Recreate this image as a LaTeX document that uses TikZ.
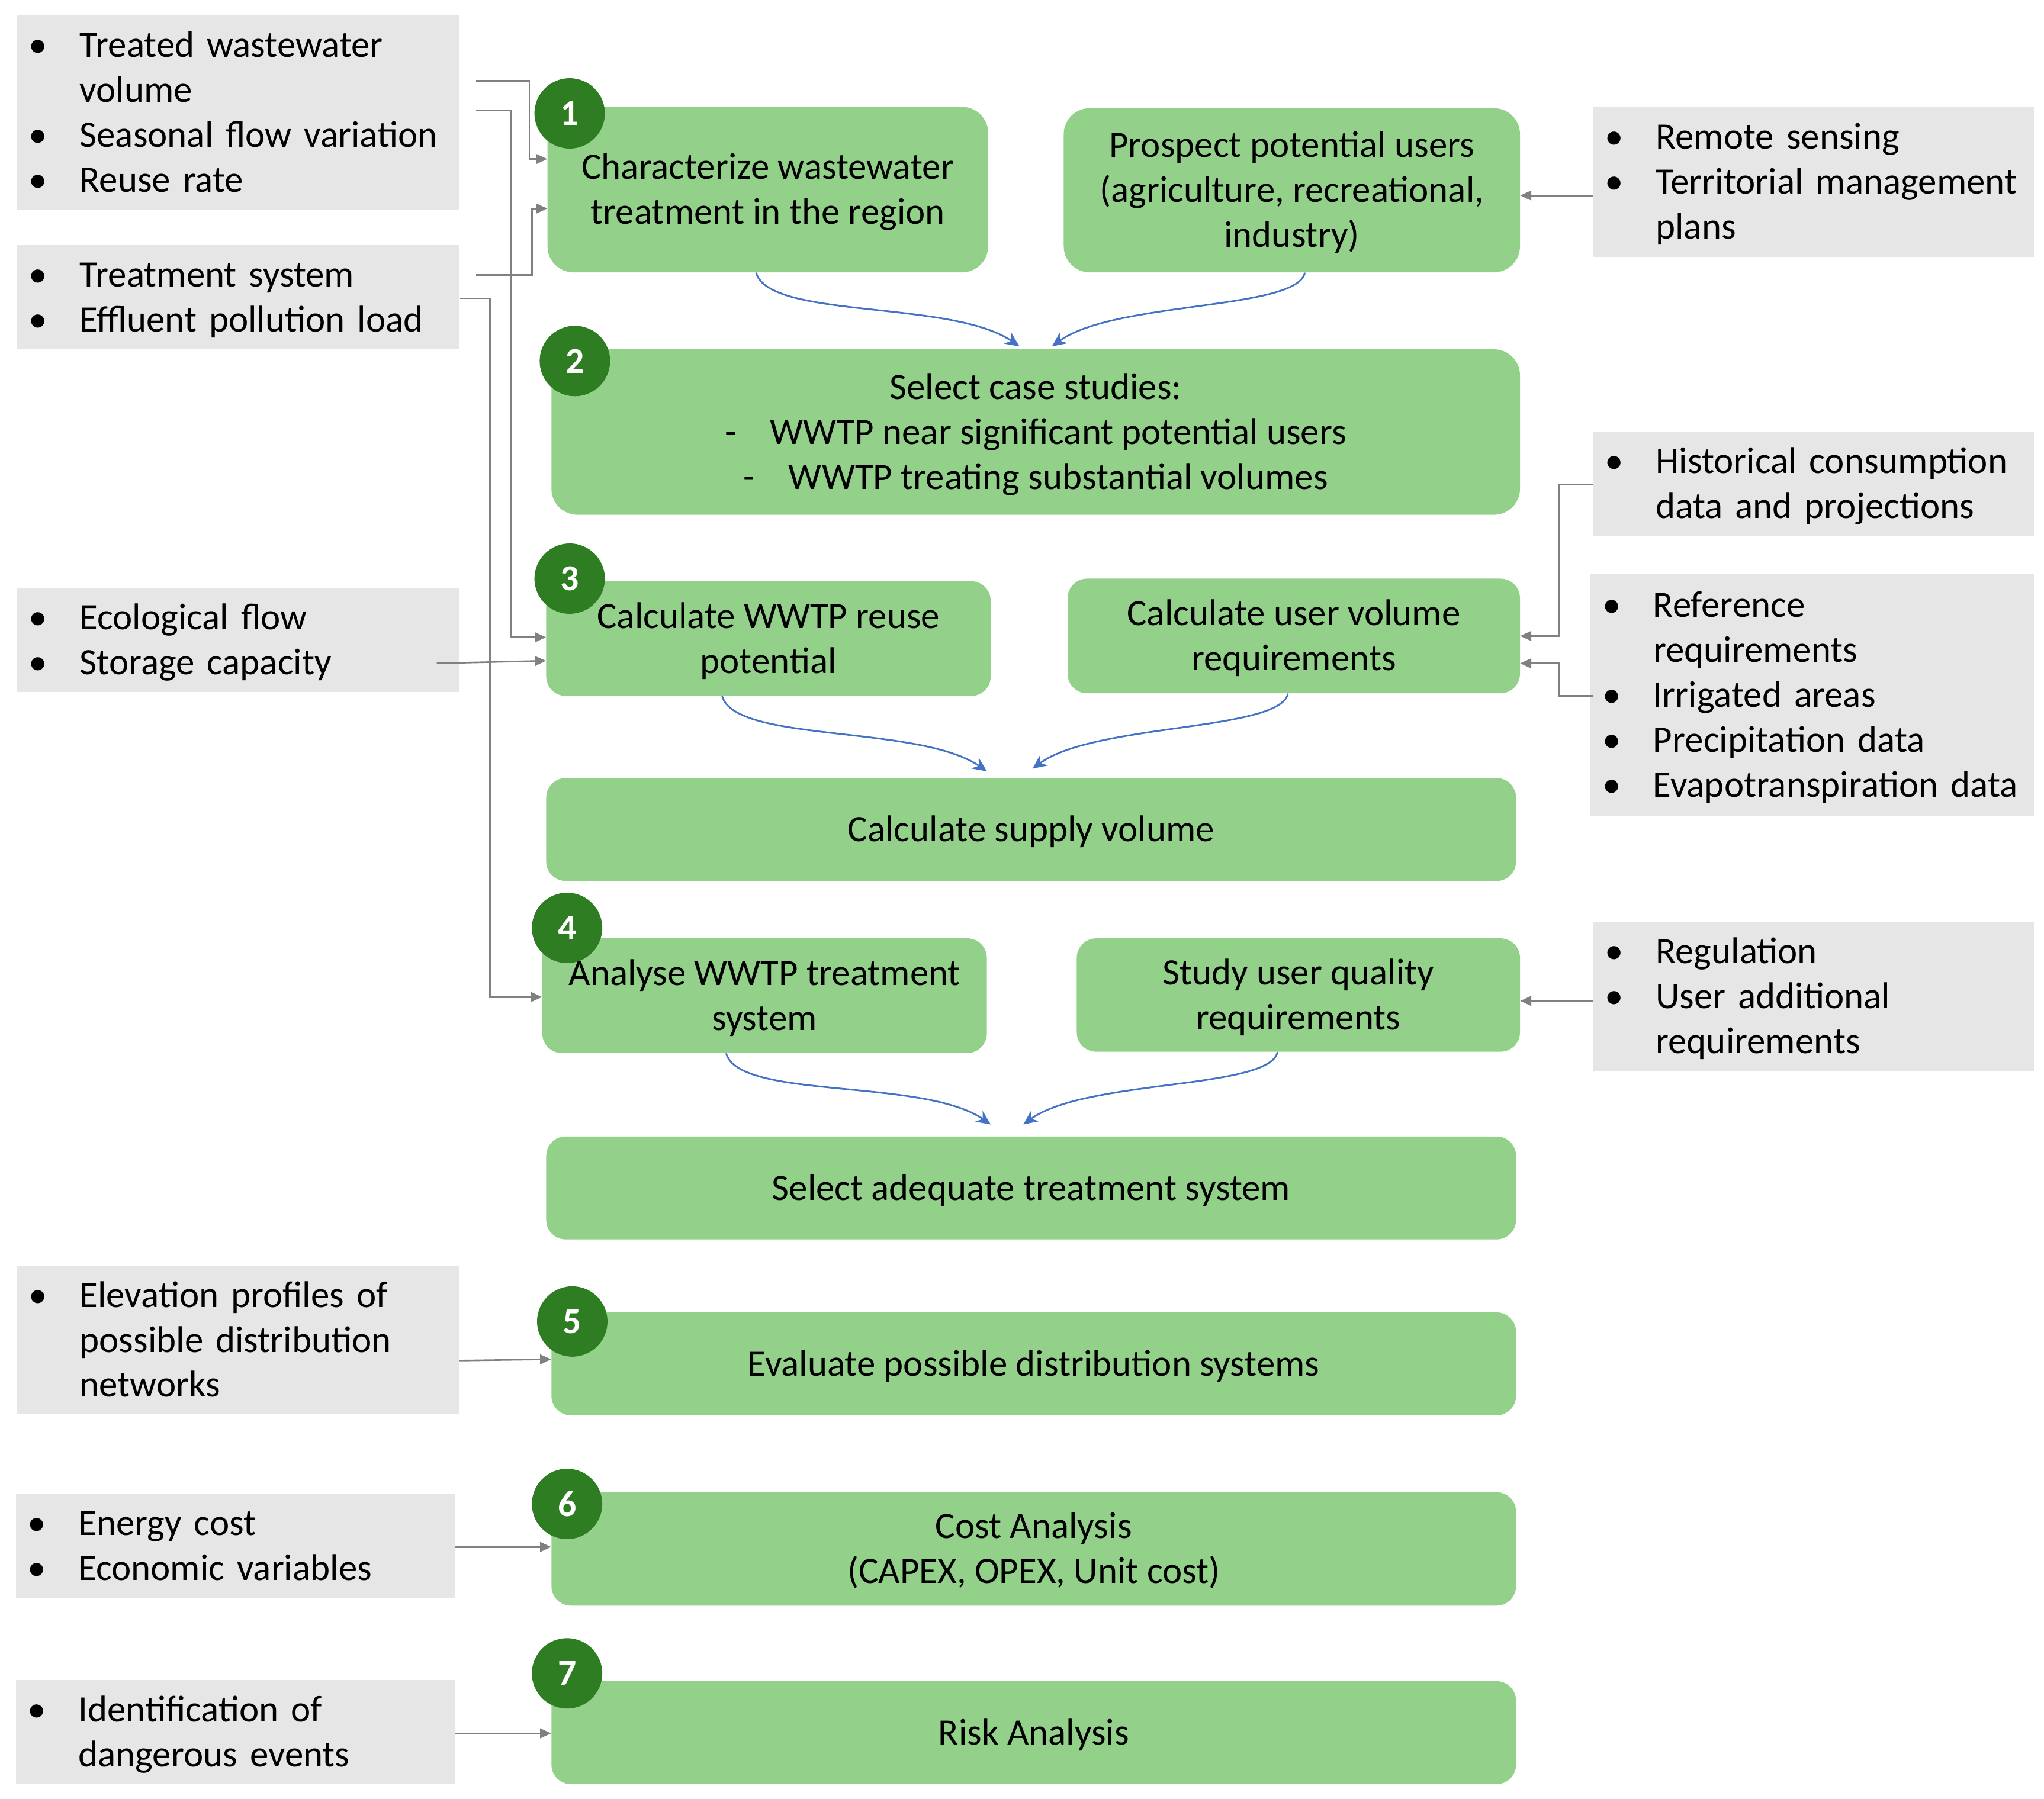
\documentclass[tikz,border=0pt]{standalone}
\usepackage{fontspec}
\setmainfont{Carlito}
\usetikzlibrary{arrows.meta,calc}
\definecolor{boxgreen}{HTML}{93D18A}
\definecolor{dkgreen}{HTML}{2E7D23}
\definecolor{boxgray}{HTML}{E7E6E6}
\definecolor{linegray}{HTML}{808080}
\definecolor{curveblue}{HTML}{4472C4}
\newcommand{\bitem}{\makebox[39pt][l]{\textbullet}}
\newcommand{\bcont}{\hspace*{39pt}}
\newcommand{\topstr}{\rule{0pt}{27pt}}
\newcommand{\botstr}{\rule[-8.5pt]{0pt}{8.5pt}}
\begin{document}
\begin{tikzpicture}[x=1pt,y=-1pt,
  every node/.style={font=\fontsize{28.6}{34.5}\selectfont},
  gbox/.style={rectangle, fill=boxgray, anchor=north west, inner xsep=9pt, inner ysep=0pt, align=left},
  stepbox/.style={rectangle, rounded corners=15pt, fill=boxgreen, align=center, inner sep=0pt},
  tallbox/.style={stepbox, rounded corners=20pt},
  num/.style={circle, fill=dkgreen, text=white, font=\fontsize{28}{30}\selectfont\bfseries, minimum size=54pt, inner sep=0pt},
  gline/.style={draw=linegray, line width=1.2pt, -{Triangle[length=8.5pt,width=7.5pt]}},
  bline/.style={draw=curveblue, line width=1.3pt, -{Stealth[length=11pt,width=10pt]}}
]
\useasboundingbox[fill=white] (0,0) rectangle (1568,1380);

% gray input boxes, left
\node[gbox, text width=321pt, minimum height=150pt] (g1) at (13,11) {\topstr\bitem Treated wastewater\\\bcont volume\\\bitem Seasonal flow variation\\\bitem Reuse rate\botstr};
\node[gbox, text width=321pt, minimum height=80pt] (g2) at (13,188) {\topstr\bitem Treatment system\\\bitem Effluent pollution load\botstr};
\node[gbox, text width=321pt, minimum height=80pt] (g3) at (13,451) {\topstr\bitem Ecological flow\\\bitem Storage capacity\botstr};
\node[gbox, text width=321pt, minimum height=114pt] (g4) at (13,971) {\topstr\bitem Elevation profiles of\\\bcont possible distribution\\\bcont networks\botstr};
\node[gbox, text width=319pt, minimum height=80pt] (g5) at (12,1146) {\topstr\bitem Energy cost\\\bitem Economic variables\botstr};
\node[gbox, text width=319pt, minimum height=80pt] (g6) at (12,1289) {\topstr\bitem Identification of\\\bcont dangerous events\botstr};

% gray input boxes, right
\node[gbox, text width=320pt, minimum height=115pt] (r1) at (1222,82) {\topstr\bitem Remote sensing\\\bitem Territorial management\\\bcont plans\botstr};
\node[gbox, text width=320pt, minimum height=80pt] (r2) at (1222,331) {\topstr\bitem Historical consumption\\\bcont data and projections\botstr};
\node[gbox, text width=322pt, minimum height=186pt] (r3) at (1220,440) {\topstr\bitem Reference\\\bcont requirements\\\bitem Irrigated areas\\\bitem Precipitation data\\\bitem Evapotranspiration data\botstr};
\node[gbox, text width=320pt, minimum height=115pt] (r4) at (1222,707) {\topstr\bitem Regulation\\\bitem User additional\\\bcont requirements\botstr};

% green step boxes
\node[tallbox, minimum width=338pt, minimum height=127pt] (b1) at (589,145.5) {\topstr Characterize wastewater\\treatment in the region\botstr};
\node[tallbox, minimum width=350pt, minimum height=126pt] (b1b) at (991,146) {\topstr Prospect potential users\\(agriculture, recreational,\\industry)\botstr};
\node[tallbox, minimum width=743pt, minimum height=127pt] (b2) at (794.5,331.5) {\topstr Select case studies:\\-\hspace{26pt}WWTP near significant potential users\\-\hspace{26pt}WWTP treating substantial volumes\botstr};
\node[stepbox, minimum width=341pt, minimum height=88pt] (b3a) at (589.5,490) {\topstr Calculate WWTP reuse\\potential\botstr};
\node[stepbox, minimum width=347pt, minimum height=88pt] (b3b) at (992.5,488) {\topstr Calculate user volume\\requirements\botstr};
\node[stepbox, minimum width=744pt, minimum height=79pt] (b3c) at (791,636.5) {\topstr Calculate supply volume\botstr};
\node[stepbox, minimum width=341pt, minimum height=88pt] (b4a) at (586.5,764) {\topstr Analyse WWTP treatment\\system\botstr};
\node[stepbox, minimum width=340pt, minimum height=87pt] (b4b) at (996,763.5) {\topstr Study user quality\\requirements\botstr};
\node[stepbox, minimum width=744pt, minimum height=79pt] (b4c) at (791,911.5) {\topstr Select adequate treatment system\botstr};
\node[stepbox, minimum width=740pt, minimum height=79pt] (b5) at (793,1046.5) {\topstr Evaluate possible distribution systems\botstr};
\node[stepbox, minimum width=740pt, minimum height=87pt] (b6) at (793,1188.5) {\topstr Cost Analysis\\(CAPEX, OPEX, Unit cost)\botstr};
\node[stepbox, minimum width=740pt, minimum height=79pt] (b7) at (793,1329.5) {\topstr Risk Analysis\botstr};

% gray connectors
\coordinate (s1) at (365,62);  \coordinate (k1) at (406,122);
\coordinate (s2) at (365,85);  \coordinate (k2) at (392,489);
\coordinate (s3) at (365,211); \coordinate (k3) at (408,160);
\coordinate (s4) at (353,229); \coordinate (k4) at (376,765);
\coordinate (s5) at (335,509); \coordinate (k5) at (419,507);
\coordinate (s7) at (1222,372); \coordinate (k7) at (1196,488);
\coordinate (s8) at (1222,534); \coordinate (k8) at (1196,509);
\draw[gline] (s1) -| (k1) -- (k1 -| b1.west);
\draw[gline] (s2) -| (k2) -- (k2 -| b3a.west);
\draw[gline] (s3) -| (k3) -- (k3 -| b1.west);
\draw[gline] (s4) -| (k4) -- (k4 -| b4a.west);
\draw[gline] (s5) -- (k5 -| b3a.west);
\draw[gline] (r1.west |- 0,150) -- (b1b.east |- 0,150);
\draw[gline] (s7) -| (k7) -- (k7 -| b3b.east);
\draw[gline] (s8) -| (k8) -- (k8 -| b3b.east);
\draw[gline] (r4.west |- 0,768) -- (b4b.east |- 0,768);
\draw[gline] (g4.east |- 0,1044) -- (b5.west |- 0,1043);
\draw[gline] (g5.east |- 0,1187) -- (b6.west |- 0,1187);
\draw[gline] (g6.east |- 0,1330) -- (b7.west |- 0,1330);

% blue curved connectors
\draw[bline] ([xshift=-9pt]b1.south) .. controls +(10,36) and +(-52,-36) .. ([xshift=-12.5pt,yshift=2pt]b2.north);
\draw[bline] ([xshift=10pt]b1b.south) .. controls +(-6,29) and +(48,-35) .. ([xshift=12.5pt,yshift=2pt]b2.north);
\draw[bline] ([xshift=-35.5pt]b3a.south) .. controls +(10,36) and +(-52,-36) .. ([xshift=-34pt,yshift=5pt]b3c.north);
\draw[bline] ([xshift=-4.5pt]b3b.south) .. controls +(-6,29) and +(48,-35) .. ([xshift=1pt,yshift=7pt]b3c.north);
\draw[bline] ([xshift=-29.5pt]b4a.south) .. controls +(10,36) and +(-52,-36) .. ([xshift=-31pt,yshift=9pt]b4c.north);
\draw[bline] ([xshift=-16pt]b4b.south) .. controls +(-6,29) and +(48,-35) .. ([xshift=-6pt,yshift=9pt]b4c.north);

% step numbers
\node[num] (n1) at (437,87) {1};
\node[num] (n2) at (441,277) {2};
\node[num] (n3) at (437,444) {3};
\node[num] (n4) at (435,712) {4};
\node[num] (n5) at (439,1014) {5};
\node[num] (n6) at (435,1154) {6};
\node[num] (n7) at (435,1284) {7};
\end{tikzpicture}
\end{document}
